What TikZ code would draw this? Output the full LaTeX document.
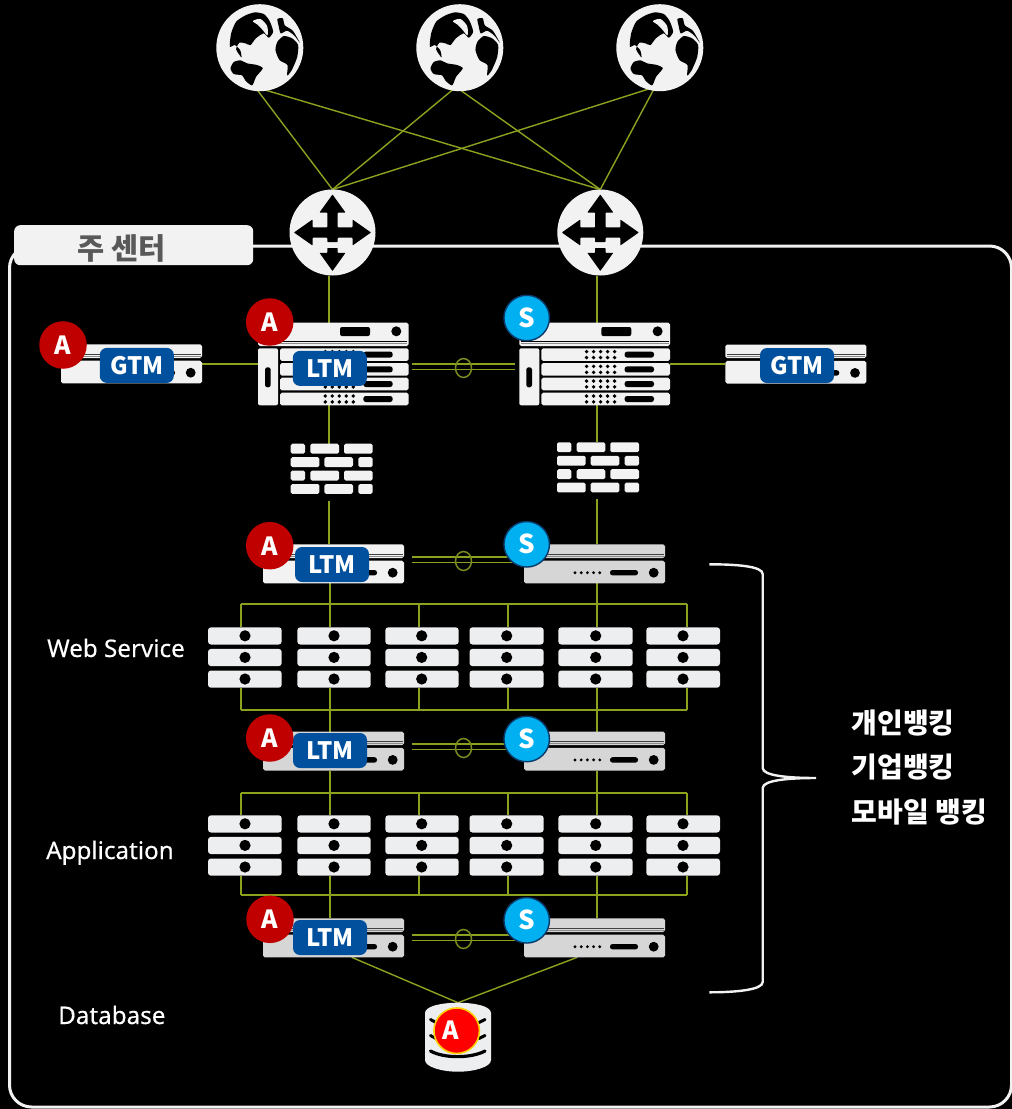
\documentclass[tikz,border=0pt]{standalone}
\usepackage{fontspec}
\setmainfont{Noto Sans}
\newfontfamily\krfont{Noto Sans CJK KR}
\newfontfamily\labelfont{Noto Sans}[FakeBold=0.35]
\usetikzlibrary{backgrounds,calc}
\definecolor{linkc}{HTML}{8CA21F}
\definecolor{hac}{HTML}{7A8C1E}
\definecolor{devl}{HTML}{F2F2F2}
\definecolor{devd}{HTML}{D6D6D6}
\definecolor{srvc}{HTML}{EDEEF0}
\definecolor{tagc}{HTML}{00509D}
\definecolor{activec}{HTML}{C00000}
\definecolor{standbyc}{HTML}{00B0F0}
\definecolor{standbyl}{HTML}{0B3A6A}
\tikzset{
  link/.style={draw=linkc,line width=1.4pt},
  halink/.style={draw=linkc,line width=1.2pt},
  haring/.style={draw=hac,line width=1.5pt},
  devbox/.style={rectangle,anchor=north west,inner sep=0pt,outer sep=0pt},
  ringnode/.style={circle,inner sep=0pt,outer sep=0pt,fill=devl},
  tagbox/.style={rectangle,rounded corners=7pt,fill=tagc,text=white,inner sep=0pt,minimum width=74pt,minimum height=35pt,
    font=\krfont\fontsize{24}{26}\selectfont\bfseries},
  badgea/.style={circle,fill=activec,text=white,inner sep=0pt,minimum size=47.5pt,font=\krfont\fontsize{25}{28}\selectfont\bfseries},
  badges/.style={circle,fill=standbyc,draw=standbyl,line width=1.4pt,text=white,inner sep=0pt,minimum size=45.5pt,font=\krfont\fontsize{26}{28}\selectfont\bfseries},
  badged/.style={circle,fill=red,draw=yellow!70!orange,line width=1.6pt,inner sep=0pt,minimum size=45.5pt},
  badgeletter/.style={text=white,inner sep=0pt,font=\krfont\fontsize{25}{28}\selectfont\bfseries},
  label/.style={text=white,anchor=base west,inner sep=0pt,font=\labelfont\fontsize{24.2}{28}\selectfont},
  krlabel/.style={text=white,anchor=west,inner sep=0pt,font=\krfont\fontsize{28}{32}\selectfont\bfseries},
}
% name, x, y, colour
\newcommand{\serverunit}[4]{%
  \node[devbox,minimum width=141pt,minimum height=39pt] (#1) at (#2,#3) {};
  \begin{scope}[shift={(#2,#3)}]
    \fill[#4,rounded corners=1.8pt] (0,0) rectangle (141,13.7);
    \draw[black!75,line width=1pt] (1.5,10.3) -- (139.5,10.3);
    \draw[black!45,line width=.8pt] (1.5,12.2) -- (139.5,12.2);
    \fill[#4,rounded corners=1.8pt] (0,16.4) rectangle (141,39);
    \fill[black] (129.7,28.4) circle (4.9);
    \fill[black,rounded corners=2.5pt] (86,25.7) rectangle (114,31.1);
    \foreach \d in {51,57.2,63.4,69.6,75.8} \fill[black] (\d,28.4) circle (1.6);
  \end{scope}}
% name, x, y
\newcommand{\stackunit}[3]{%
  \node[devbox,minimum width=150.7pt,minimum height=82.6pt] (#1) at (#2,#3) {};
  \begin{scope}[shift={(#2,#3)}]
    \fill[devl,rounded corners=1.8pt] (0,0) rectangle (150.7,23.3);
    \draw[black,line width=.9pt] (1.5,19) -- (149.2,19);
    \draw[black!45,line width=.7pt] (1.5,20.9) -- (149.2,20.9);
    \fill[black] (138.3,8.6) circle (5);
    \fill[black,rounded corners=2pt] (82,4.3) rectangle (112,13.3);
    \fill[devl,rounded corners=2pt] (0,25.6) rectangle (20,82.6);
    \fill[black,rounded corners=2.4pt] (7,44.6) rectangle (12.7,64.6);
    \foreach \t in {25.6,40.4,55,70}{
      \fill[devl,rounded corners=1.8pt] (22,\t) rectangle (150.7,\t+12.6);
      \fill[black,rounded corners=2.5pt] (105.3,\t+3.3) rectangle (134.7,\t+9.3);
      \foreach \d in {67.3,74.3,81.3,88.3,95.3}{
        \fill[black] (\d,\t+3.3) circle (1.9);
        \fill[black] (\d,\t+9.2) circle (1.9);}
    }
  \end{scope}}
% name, x, y
\newcommand{\firewallunit}[3]{%
  \node[devbox,minimum width=82pt,minimum height=50pt] (#1) at (#2,#3) {};
  \begin{scope}[shift={(#2,#3)},devl,rounded corners=1.6pt]
    \foreach \t in {0,26.9}{
      \fill (0,\t) rectangle (14.3,\t+9.9);
      \fill (19.7,\t) rectangle (48.3,\t+9.9);
      \fill (53.3,\t) rectangle (82,\t+9.9);}
    \foreach \t in {13.5,40.3}{
      \fill (0,\t) rectangle (28.7,\t+9.8);
      \fill (33.7,\t) rectangle (62.3,\t+9.8);
      \fill (67.7,\t) rectangle (82,\t+9.8);}
  \end{scope}}
% name, x, y, circle x (relative), width
\newcommand{\hostunit}[5]{%
  \node[devbox,minimum width=#5pt,minimum height=60.5pt] (#1) at (#2,#3) {};
  \begin{scope}[shift={(#2,#3)}]
    \foreach \t in {0,21.6,43.2}{
      \fill[srvc,rounded corners=3pt] (0,\t) rectangle (#5,\t+17.2);
      \fill[black] (#4,\t+8.5) circle (5.6);}
  \end{scope}}
% name, cx, cy
\newcommand{\routerunit}[3]{%
  \node[ringnode,minimum size=86pt] (#1) at (#2,#3) {};
  \begin{scope}[shift={(#2,#3)}]
    \fill[black,rounded corners=.6pt]
      (0,-38) -- (13,-20) -- (5.2,-20) -- (5.2,-5.2) -- (20,-5.2) -- (20,-13) -- (38.5,0) -- (20,13) -- (20,5.2)
      -- (5.2,5.2) -- (5.2,9.5) -- (-5.2,9.5) -- (-5.2,5.2) -- (-20,5.2) -- (-20,13) -- (-38.5,0) -- (-20,-13) -- (-20,-5.2)
      -- (-5.2,-5.2) -- (-5.2,-20) -- (-13,-20) -- cycle;
    \fill[black,rounded corners=.6pt]
      (-5.2,15.5) -- (5.2,15.5) -- (5.2,20.3) -- (13,20.3) -- (0,38.5) -- (-13,20.3) -- (-5.2,20.3) -- cycle;
  \end{scope}}
% name, cx, cy
\newcommand{\globeunit}[3]{%
  \node[ringnode,minimum size=87pt] (#1) at (#2,#3) {};
  \begin{scope}[shift={(#2,#3)},scale=.3333,shift={(-143,-143)}]
    \fill[black] plot[smooth cycle,tension=.4] coordinates {(53,140) (57,100) (72,65) (100,46) (128,37) (155,42) (172,62) (183,95) (170,113) (155,100) (132,114) (115,135) (100,130) (82,128) (72,148) (88,172) (84,150) (68,135)};
    \fill[devl] plot[smooth cycle,tension=.5] coordinates {(122,63) (145,57) (165,78) (166,106) (150,88) (135,73)};
    \fill[black] plot[smooth cycle,tension=.4] coordinates {(190,150) (196,125) (215,108) (240,115) (258,135) (255,172) (238,212) (225,226) (226,195) (202,180)};
    \fill[black] plot[smooth cycle,tension=.4] coordinates {(55,205) (65,186) (85,181) (105,190) (135,195) (152,205) (132,230) (120,256) (100,242) (90,226) (65,222)};
    \fill[black] plot[smooth cycle,tension=.4] coordinates {(196,57) (212,55) (218,76) (242,92) (263,128) (246,106) (225,92) (206,100) (200,80)};
  \end{scope}}
\begin{document}
\begin{tikzpicture}[x=1pt,y=-1pt]
\useasboundingbox (0,0) rectangle (1012,1109);
% channels
\coordinate (cU) at (329,0);
\coordinate (cA) at (330,0);
\coordinate (cS) at (597,0);
\coordinate (cL) at (241,0);
\coordinate (cB) at (419,0);
\coordinate (cC) at (508,0);
\coordinate (cR) at (687,0);
% frame
\node[devbox,draw=devl,line width=3pt,rounded corners=22pt,minimum width=1002pt,minimum height=861pt] (frame) at (9.5,246) {};
\node[rectangle,anchor=north west,fill=devl,rounded corners=6pt,minimum width=239pt,minimum height=40pt,inner sep=0pt] (title) at (14,225) {};
\node[text=black!65,inner sep=0pt,font=\krfont\fontsize{29.5}{32}\selectfont\bfseries] (titletext) at (122,248) {주 센터};
% globes and routers
\globeunit{g1}{259.8}{47.7}
\globeunit{g2}{459.8}{47.7}
\globeunit{g3}{659.8}{47.7}
\routerunit{r1}{332.5}{232.5}
\routerunit{r2}{600.3}{232.5}
\coordinate (g1p) at (255,87);
\coordinate (g2p) at (456,87);
\coordinate (g3p) at (655,87);
% GTM
\serverunit{gtma}{61}{344.3}{devl}
\serverunit{gtms}{725.3}{344.5}{devl}
% chassis
\stackunit{sa}{258}{322.7}
\stackunit{ss}{519.3}{322.7}
% firewalls
\firewallunit{fa}{290.7}{443.7}
\firewallunit{fs}{557}{442.3}
% LTM pairs
\serverunit{la}{263}{544.3}{devl}
\serverunit{ls}{524}{544.3}{devd}
\serverunit{ma}{263}{731.5}{devd}
\serverunit{ms}{524}{731.5}{devd}
\serverunit{ba}{263}{918.3}{devd}
\serverunit{bs}{524}{918.3}{devd}
% web hosts
\hostunit{w1}{208}{627.3}{37}{73.7}
\hostunit{w2}{297.3}{627.3}{36.7}{73.4}
\hostunit{w3}{385.3}{627.3}{36.4}{73.4}
\hostunit{w4}{469.5}{627.3}{37.2}{74.2}
\hostunit{w5}{558.3}{627.3}{37.4}{74.4}
\hostunit{w6}{646.3}{627.3}{36.7}{73.7}
% application hosts
\hostunit{p1}{208}{815.3}{37}{73.7}
\hostunit{p2}{297.3}{815.3}{36.7}{73.4}
\hostunit{p3}{385.3}{815.3}{36.4}{73.4}
\hostunit{p4}{469.5}{815.3}{37.2}{74.2}
\hostunit{p5}{558.3}{815.3}{37.4}{74.4}
\hostunit{p6}{646.3}{815.3}{36.7}{73.7}
% database
\node[devbox,minimum width=66pt,minimum height=69pt] (db) at (425,1002.7) {};
\fill[srvc] (425,1013) .. controls (425,1006) and (442,1002.7) .. (458,1002.7) .. controls (474,1002.7) and (491,1006) .. (491,1013)
  -- (491,1060) .. controls (491,1067) and (474,1071.7) .. (458,1071.7) .. controls (442,1071.7) and (425,1067) .. (425,1060) -- cycle;
\draw[black,line width=3pt,line cap=round] (430.5,1019.5) -- (436,1022.5);
\draw[black,line width=3pt,line cap=round] (479,1022.5) -- (485,1019.5);
\draw[black,line width=3pt,line cap=round] (430.5,1035.5) -- (436,1038.5);
\draw[black,line width=3pt,line cap=round] (479,1038.5) -- (485,1035.5);
\draw[black,line width=3.2pt,line cap=round] (430.5,1051) .. controls (444,1058.5) and (471,1058.5) .. (485,1051);
% tags
\node[tagbox] (tg1) at (136.8,365.4) {GTM};
\node[tagbox] (tg2) at (797,365.5) {GTM};
\node[tagbox] (tl1) at (329.8,368.4) {LTM};
\node[tagbox] (tl2) at (332,564.5) {LTM};
\node[tagbox] (tl3) at (330,750.5) {LTM};
\node[tagbox] (tl4) at (330,937.5) {LTM};
% badges
\node[badgea] (ba1) at (63,345) {A};
\node[badgea] (ba2) at (269.7,322) {A};
\node[badges] (bs2) at (526.7,318) {S};
\node[badgea] (ba3) at (269.7,545.7) {A};
\node[badges] (bs3) at (526.7,544.3) {S};
\node[badgea] (ba4) at (269.7,738) {A};
\node[badges] (bs4) at (526.7,739) {S};
\node[badgea] (ba5) at (270,919.3) {A};
\node[badges] (bs5) at (526.7,920.3) {S};
\node[badged] (bd) at (456.7,1030.7) {};
\node[badgeletter] (bdl) at (451,1030.5) {A};
% texts
\node[label] (tw) at (47,657) {Web Service};
\node[label] (tp) at (46,859) {Application};
\node[label] (td) at (58,1024) {Database};
\node[krlabel] (k1) at (851.5,723) {개인뱅킹};
\node[krlabel] (k2) at (851.5,767) {기업뱅킹};
\node[krlabel] (k3) at (851.5,812) {모바일 뱅킹};
% brace
\coordinate (bt) at (709.3,564.3);
\coordinate (bb) at (709.3,992.3);
\coordinate (bm) at (816,778);
\draw[devl,line width=2.4pt] (bt) .. controls (735,564.3) and (762.7,566) .. (762.7,574)
  -- (762.7,768) .. controls (762.7,776) and (790,778) .. (bm)
  .. controls (790,778) and (762.7,780) .. (762.7,788)
  -- (762.7,982) .. controls (762.7,990) and (735,992.3) .. (bb);
% connectors
\begin{scope}[on background layer]
  \fill[black] (0,0) rectangle (1012,1109);
  \foreach \g in {g1p,g2p,g3p}{
    \draw[link] (\g) -- (r1.north);
    \draw[link] (\g) -- (r2.north);}
  \draw[link] (cU |- r1.south) -- (cU |- sa.north);
  \draw[link] (cS |- r2.south) -- (cS |- ss.north);
  \draw[link] (cU |- sa.south) -- (cU |- fa.north);
  \draw[link] (cS |- ss.south) -- (cS |- fs.north);
  \draw[link] (cU |- fa.south) ++(0,7) -- (cU |- la.north);
  \draw[link] (cS |- fs.south) ++(0,7) -- (cS |- ls.north);
  \coordinate (gy) at (0,364);
  \draw[link] (gtma.north east |- gy) -- (sa.north west |- gy);
  \draw[link] (ss.north east |- gy) -- (gtms.north west |- gy);
  % buses
  \coordinate (bus1) at (0,604);
  \coordinate (bus2) at (0,710);
  \coordinate (bus3) at (0,793);
  \coordinate (bus4) at (0,895);
  \draw[link] (cL |- bus1) -- (cR |- bus1);
  \draw[link] (cL |- bus2) -- (cR |- bus2);
  \draw[link] (cL |- bus3) -- (cR |- bus3);
  \draw[link] (cL |- bus4) -- (cR |- bus4);
  \draw[link] (cA |- la.south) -- (cA |- bus1);
  \draw[link] (cS |- ls.south) -- (cS |- bus1);
  \foreach \c/\h in {cL/w1,cA/w2,cB/w3,cC/w4,cS/w5,cR/w6}{
    \draw[link] (\c |- bus1) -- (\c |- \h.north);
    \draw[link] (\c |- \h.south) -- (\c |- bus2);}
  \draw[link] (cA |- bus2) -- (cA |- ma.north);
  \draw[link] (cS |- bus2) -- (cS |- ms.north);
  \draw[link] (cA |- ma.south) -- (cA |- bus3);
  \draw[link] (cS |- ms.south) -- (cS |- bus3);
  \foreach \c/\h in {cL/p1,cA/p2,cB/p3,cC/p4,cS/p5,cR/p6}{
    \draw[link] (\c |- bus3) -- (\c |- \h.north);
    \draw[link] (\c |- \h.south) -- (\c |- bus4);}
  \draw[link] (cA |- bus4) -- (cA |- ba.north);
  \draw[link] (cS |- bus4) -- (cS |- bs.north);
  \draw[link] ($(ba.south west)+(88.7,0)$) -- (db.north);
  \draw[link] ($(bs.south west)+(53.3,0)$) -- (db.north);
  % HA pairs
  \foreach \a/\b/\y/\e in {sa/ss/364/368,la/ls/557/561,ma/ms/744/748,ba/bs/935/939}{
    \draw[halink] (411.5,\y) -- (515,\y);
    \draw[halink] (411.5,\y+5.6) -- (515,\y+5.6);
    \draw[haring] (463.5,\e) ellipse (8 and 9.5);}
\end{scope}
\end{tikzpicture}
\end{document}
